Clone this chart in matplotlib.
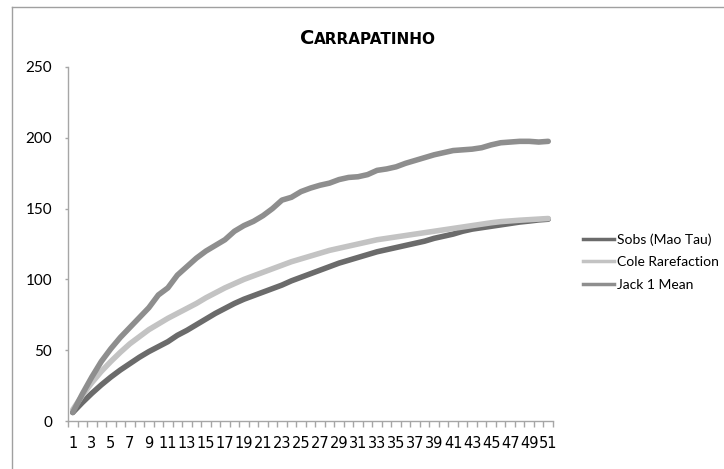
# Species accumulation curves - Carrapatinho
import matplotlib.pyplot as plt
from matplotlib.lines import Line2D

# Data
samples = list(range(1, 52))

sobs = [6, 13, 19.5, 25.5, 31, 36, 40.5, 45, 49, 52.5,
        56, 60.5, 64, 68, 72, 76, 79.5, 83, 86, 88.5,
        91, 93.5, 96, 99, 101.5, 104, 106.5, 109, 111.5, 113.5,
        115.5, 117.5, 119.5, 121, 122.5, 124, 125.5, 127, 129, 130.5,
        132, 134, 135.5, 136.5, 137.5, 138.5, 139.5, 140.5, 141.2, 142, 142.5]

cole = [8, 18, 27, 35, 42, 48.5, 54.5, 59.5, 64.5, 68.5,
        72.5, 76, 79.5, 83, 87, 90.5, 94, 97, 100, 102.5,
        105, 107.5, 110, 112.5, 114.5, 116.5, 118.5, 120.5, 122, 123.5,
        125, 126.5, 128, 129, 130, 131, 132, 133, 134, 135,
        136, 137, 138, 139, 140, 140.8, 141.3, 141.8, 142.2, 142.6, 143]

jack1 = [6, 19, 31, 42, 51, 59, 66, 73, 80, 89,
         94, 103, 109, 115, 120, 124, 128, 134, 138, 141,
         145, 150, 156, 158, 162, 164.5, 166.5, 168, 170.5, 172,
         172.5, 174, 177, 178, 179.5, 182, 184, 186, 188, 189.5,
         191, 191.5, 192, 193, 195, 196.5, 197, 197.5, 197.5, 197, 197.5]

series_names = ["Sobs (Mao Tau)", "Cole Rarefaction", "Jack 1 Mean"]
series_colors = ["#6b6b6b", "#c3c3c3", "#8e8e8e"]

fig = plt.figure(figsize=(7.24, 4.69), dpi=100)
ax = fig.add_axes([68 / 724, 1 - 421 / 469, 485 / 724, 354 / 469])

for vals, name, col in zip([sobs, cole, jack1], series_names, series_colors):
    ax.plot(samples, vals, color=col, lw=4, solid_capstyle="round",
            solid_joinstyle="round", label=name)

ax.set_xlim(0.5, 51.5)
ax.set_ylim(0, 250)

# spines
for s in ["top", "right"]:
    ax.spines[s].set_visible(False)
for s in ["left", "bottom"]:
    ax.spines[s].set_color("#a6a6a6")
    ax.spines[s].set_linewidth(1)

# y axis
ax.set_yticks([0, 50, 100, 150, 200, 250])
ax.tick_params(axis="y", direction="out", length=2.5, width=1, color="#a6a6a6",
               pad=9, labelsize=11)
for lbl in ax.get_yticklabels():
    lbl.set_family("Lato")

# x axis: tick marks between categories, labels on every other category
ax.set_xticks([i + 0.5 for i in range(0, 52)])
ax.set_xticklabels([])
ax.set_xticks(samples[::2], minor=True)
ax.set_xticklabels([str(v) for v in samples[::2]], minor=True)
ax.tick_params(axis="x", which="major", direction="out", length=4, width=1,
               color="#a6a6a6")
ax.tick_params(axis="x", which="minor", length=0, pad=11, labelsize=10.5)

# title in small caps
fig.text(314 / 724, 1 - 44 / 469, "C", fontsize=14, fontweight="bold",
         family="DejaVu Sans", ha="right", va="baseline")
fig.text(314 / 724, 1 - 44 / 469, "ARRAPATINHO", fontsize=11, fontweight="bold",
         family="DejaVu Sans", ha="left", va="baseline")

# legend
handles = [Line2D([0], [0], color=c, lw=2.5) for c in series_colors]
fig.legend(handles, series_names, loc="center left",
           bbox_to_anchor=(570 / 724, 1 - 262 / 469), frameon=False,
           prop={"family": "Lato", "size": 10}, handlelength=2.3,
           handletextpad=0.15, labelspacing=0.75)

# chart area border (left and top only)
fig.add_artist(Line2D([11.5 / 724, 11.5 / 724], [0, 1 - 7.5 / 469],
                      transform=fig.transFigure, color="#a0a0a0", lw=1))
fig.add_artist(Line2D([11.5 / 724, 1], [1 - 7.5 / 469, 1 - 7.5 / 469],
                      transform=fig.transFigure, color="#a0a0a0", lw=1))

fig.savefig("out.png", dpi=100)
